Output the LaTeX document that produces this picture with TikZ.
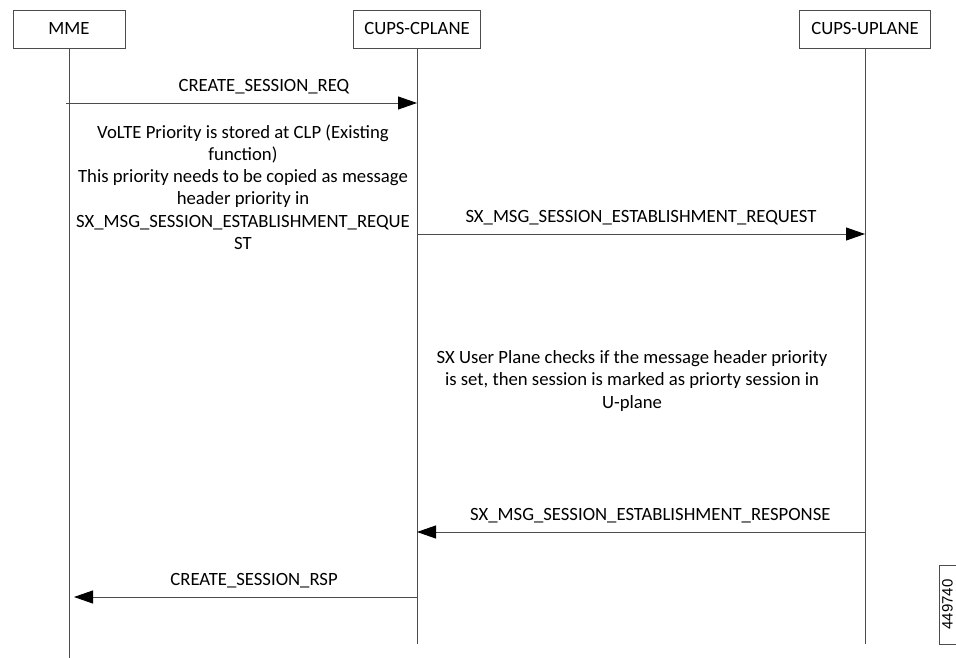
\documentclass[tikz,border=0pt]{standalone}
\usepackage{fontspec}
\setmainfont{Carlito}
\newfontfamily\tagfont{Liberation Sans}
\usetikzlibrary{arrows.meta}
\tikzset{
  entity/.style   = {shape=rectangle, draw=black!70, line width=0.9pt,
                     minimum height=38pt, inner sep=0pt,
                     font=\fontsize{18.7}{22}\selectfont},
  lifeline/.style = {draw=black!70, line width=0.9pt},
  msg/.style      = {draw=black!70, line width=0.9pt,
                     -{Triangle[length=19pt,width=13pt,color=black]}},
  msglabel/.style = {above, inner sep=0pt, yshift=9pt,
                     font=\fontsize{18.7}{22}\selectfont},
  note/.style     = {align=center, inner sep=0pt,
                     font=\fontsize{18.7}{22.2}\selectfont}
}
\begin{document}
\begin{tikzpicture}
  [
    x = 1pt,
    y = -1pt
  ]
  \useasboundingbox (0,0) rectangle (956,658);
  \node [entity, minimum width=112pt] (mme)   at (69,29)  {MME};
  \node [entity, minimum width=127pt] (cpl) at (417,29) {CUPS-CPLANE};
  \node [entity, minimum width=131pt] (upl) at (865,29) {CUPS-UPLANE};
  \coordinate (mme-end) at (69,658);
  \coordinate (cpl-end) at (417,644);
  \coordinate (upl-end) at (865,644);
  \draw [lifeline] (mme) -- (mme-end);
  \draw [lifeline] (cpl) -- (cpl-end);
  \draw [lifeline] (upl) -- (upl-end);
  \coordinate (req-a) at (66,103);
  \coordinate (req-b) at (cpl |- 0,103);
  \coordinate (sxq-a) at (cpl |- 0,234);
  \coordinate (sxq-b) at (upl |- 0,234);
  \coordinate (sxr-a) at (upl |- 0,532);
  \coordinate (sxr-b) at (cpl |- 0,532);
  \coordinate (rsp-a) at (cpl |- 0,597);
  \coordinate (rsp-b) at (74,597);
  \draw [msg] (req-a) -- node [msglabel, pos=0.564] {CREATE\_SESSION\_REQ} (req-b);
  \draw [msg] (sxq-a) -- node [msglabel] {SX\_MSG\_SESSION\_ESTABLISHMENT\_REQUEST} (sxq-b);
  \draw [msg] (sxr-a) -- node [msglabel, pos=0.479] {SX\_MSG\_SESSION\_ESTABLISHMENT\_RESPONSE} (sxr-b);
  \draw [msg] (rsp-a) -- node [msglabel, pos=0.475] {CREATE\_SESSION\_RSP} (rsp-b);
  \node [note] (clpnote) at (243,187)
    {VoLTE Priority is stored at CLP (Existing\\ function)\\
     This priority needs to be copied as message\\ header priority in\\
     SX\_MSG\_SESSION\_ESTABLISHMENT\_REQUE\\ ST};
  \node [note] (uplnote) at (632,381)
    {SX User Plane checks if the message header priority\\
     is set, then session is marked as priorty session in\\ U-plane};
  \node [draw=black!70, line width=0.9pt, minimum width=79pt, minimum height=20pt,
         inner sep=0pt, rotate=90] (figbox) at (949.5,604.5) {};
  \node [rotate=90, inner sep=0pt, font=\tagfont\fontsize{15}{18}\selectfont]
    (figid) at (947.5,604.5) {449740};
\end{tikzpicture}
\end{document}
